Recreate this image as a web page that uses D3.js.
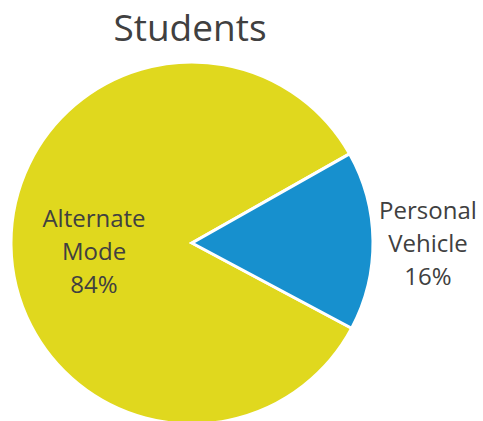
<!DOCTYPE html>
<meta charset="utf-8">
<style>
  body { margin: 0; background: #fff; }
  text { font-family: "Open Sans", sans-serif; fill: #404040; }
</style>
<script src="https://d3js.org/d3.v7.min.js"></script>
<body>
</body>
<script>
// chart data
var title = "Students";
var categories = ["Alternate Mode", "Personal Vehicle"];
var values = [84, 16];
var labelLines = [["Alternate", "Mode", "84%"], ["Personal", "Vehicle", "16%"]];
var colors = ["#e0d81e", "#1790ce"];

var width = 483,
    height = 421,
    cx = 192,
    cy = 243,
    radius = 181;

var svg = d3.select("body").append("svg")
    .attr("width", width)
    .attr("height", height);

svg.append("text")
    .attr("x", 190)
    .attr("y", 41)
    .attr("text-anchor", "middle")
    .style("font-size", "37px")
    .text(title);

var g = svg.append("g")
    .attr("transform", "translate(" + cx + "," + cy + ")");

// rotate so the small slice starts at ~60.5 deg clockwise from 12 o'clock
var rot = 60.5 * Math.PI / 180 - 2 * Math.PI * values[0] / d3.sum(values);

var pie = d3.pie()
    .sort(null)
    .startAngle(rot)
    .endAngle(rot + 2 * Math.PI)
    .value(function(d) { return d; });

var arc = d3.arc().innerRadius(0).outerRadius(radius);

var arcs = pie(values);

g.selectAll("path").data(arcs).enter().append("path")
    .attr("d", arc)
    .attr("fill", function(d, i) { return colors[i]; })
    .attr("stroke", "#fff")
    .attr("stroke-width", 3)
    .attr("stroke-linejoin", "miter");

// label radii: inside for big slice, outside for small one
var labelR = [98, 236],
    labelShift = [7, 3];

arcs.forEach(function(d, i) {
    var a = (d.startAngle + d.endAngle) / 2;
    var x = labelR[i] * Math.sin(a),
        y = -labelR[i] * Math.cos(a) + labelShift[i];
    var lines = labelLines[i];
    var lh = 33;
    var t = g.append("text")
        .attr("text-anchor", "middle")
        .style("font-size", "24px");
    lines.forEach(function(s, k) {
        t.append("tspan")
            .attr("x", x)
            .attr("y", y + (k - (lines.length - 1) / 2) * lh)
            .attr("dy", "0.35em")
            .text(s);
    });
});
</script>
